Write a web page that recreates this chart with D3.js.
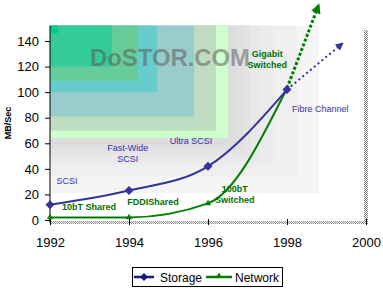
<!DOCTYPE html>
<html>
<head>
<meta charset="utf-8">
<script src="https://cdn.jsdelivr.net/npm/d3@7"></script>
<style>
  body { margin: 0; background: #fff; }
  svg { display: block; font-family: Arial, "Liberation Sans", sans-serif; }
</style>
</head>
<body>
<div id="chartContainer"></div>
<script>
// Chart data
const years = [1992, 1994, 1996, 1998];
const storage = [12, 23, 42, 102];
const network = [2, 2, 13, 103];
const storageTrend = [[1998, 102], [1999.4, 138]];
const networkTrend = [[1998, 103], [1998.8, 168]];
const xTicks = [1992, 1994, 1996, 1998, 2000];
const yTicks = [0, 20, 40, 60, 80, 100, 120, 140];

// Background shading: bottom-right corners (year, MB/sec) of nested boxes
const bgCorners = [[1992.2, 146], [1993.57, 120], [1994.23, 109], [1994.71, 100], [1995.65, 81],
    [1996.2, 70], [1996.5, 64], [1996.7, 59], [1996.9, 55], [1997.06, 51], [1997.3, 47],
    [1997.65, 43], [1998.25, 34], [1998.8, 21]];
const bgColors = ["#00cc8c", "#33cc99", "#66cc99", "#66cccc", "#99cccc",
    "#c0dcc0", "#ccffcc", "#dcdcdc", "#e0e0e0", "#e4e4e4", "#e8e8e8",
    "#ebebeb", "#efefef", "#f5f5f5"];

// Annotations (centre year, baseline value)
const storageNotes = [
    { lines: ["SCSI"], year: 1992.43, value: 28 },
    { lines: ["Fast-Wide", "SCSI"], year: 1993.97, value: 45.4 },
    { lines: ["Ultra SCSI"], year: 1995.57, value: 59.4 },
    { lines: ["Fibre Channel"], year: 1998.84, value: 84.5 }
];
const networkNotes = [
    { lines: ["10bT Shared"], year: 1992.99, value: 7.8 },
    { lines: ["FDDIShared"], year: 1994.61, value: 11.7 },
    { lines: ["100bT", "Switched"], year: 1996.68, value: 13.3 },
    { lines: ["Gigabit", "Switched"], year: 1997.5, value: 118.9 }
];

function createChart() {
    const width = 383;
    const height = 296;
    const blue = "#333399";
    const green = "#008000";

    const x = d3.scaleLinear().domain([1992, 2000]).range([50, 366]);
    const y = d3.scaleLinear().domain([0, 140]).range([220, 41]);

    const svg = d3.create("svg")
        .attr("width", width)
        .attr("height", height)
        .attr("viewBox", `0 0 ${width} ${height}`);

    svg.append("rect").attr("width", width).attr("height", height).attr("fill", "#fff");

    const defs = svg.append("defs");
    const pat = defs.append("pattern")
        .attr("id", "hatch").attr("width", 2).attr("height", 2)
        .attr("patternUnits", "userSpaceOnUse");
    pat.append("rect").attr("width", 2).attr("height", 2).attr("fill", "#fff");
    pat.append("rect").attr("width", 1).attr("height", 1).attr("fill", "#888");
    pat.append("rect").attr("x", 1).attr("y", 1).attr("width", 1).attr("height", 1).attr("fill", "#888");

    [["arrowBlue", blue, 8], ["arrowGreen", green, 10]].forEach(([id, c, s]) => {
        defs.append("marker")
            .attr("id", id).attr("viewBox", "0 0 10 10")
            .attr("refX", 8).attr("refY", 5)
            .attr("markerWidth", s).attr("markerHeight", s)
            .attr("markerUnits", "userSpaceOnUse")
            .attr("orient", "auto")
            .append("path").attr("d", "M0,0L10,5L0,10Z").attr("fill", c);
    });

    // Background boxes, largest first
    const top = y(152);
    svg.append("g")
        .selectAll("rect")
        .data(bgCorners.map((c, i) => ({ c, color: bgColors[i] })).reverse())
        .join("rect")
        .attr("x", x(1992))
        .attr("y", top)
        .attr("width", d => x(d.c[0]) - x(1992))
        .attr("height", d => y(d.c[1]) - top)
        .attr("fill", d => d.color);

    // Watermark
    svg.append("text")
        .attr("x", x(1992) + 40).attr("y", 66)
        .attr("textLength", 160).attr("lengthAdjust", "spacingAndGlyphs")
        .attr("font-size", 24).attr("font-weight", "bold")
        .attr("fill", "#555").attr("fill-opacity", 0.5)
        .text("DoSTOR.COM");

    // Frame: hatched right border and bottom axis
    svg.append("rect").attr("x", x(2000) - 2).attr("y", 30).attr("width", 4)
        .attr("height", 222 - 30).attr("fill", "url(#hatch)");
    svg.append("rect").attr("x", x(1992)).attr("y", 221).attr("width", x(2000) - x(1992) + 2)
        .attr("height", 3).attr("fill", "url(#hatch)");
    svg.append("line").attr("x1", x(1992)).attr("x2", x(1992))
        .attr("y1", top).attr("y2", 223).attr("stroke", "#000");

    // Axes
    const yAxis = svg.append("g")
        .attr("transform", `translate(${x(1992)},0)`)
        .call(d3.axisLeft(y).tickValues(yTicks).tickSize(5).tickPadding(6));
    yAxis.select(".domain").remove();
    yAxis.selectAll("text").attr("font-size", 13).attr("font-family", null).attr("fill", "#000");

    const xAxis = svg.append("g")
        .attr("transform", "translate(0,222)")
        .call(d3.axisBottom(x).tickValues(xTicks).tickFormat(d3.format("d")).tickSize(3));
    xAxis.select(".domain").remove();
    xAxis.selectAll("line").attr("y1", -3).attr("y2", 3);
    xAxis.selectAll("text").attr("y", 16).attr("font-size", 13).attr("font-family", null).attr("fill", "#000");

    svg.append("text")
        .attr("transform", `translate(11,123) rotate(-90)`)
        .attr("text-anchor", "middle")
        .attr("font-size", 9).attr("font-weight", "bold")
        .text("MB/Sec");

    // Lines
    const line = d3.line()
        .x((d, i) => x(years[i]))
        .y(d => y(d))
        .curve(d3.curveMonotoneX);

    svg.append("path").datum(network).attr("d", line)
        .attr("fill", "none").attr("stroke", green).attr("stroke-width", 2);
    svg.append("path").datum(storage).attr("d", line)
        .attr("fill", "none").attr("stroke", blue).attr("stroke-width", 2);

    // Dotted projections
    const trend = d3.line().x(d => x(d[0])).y(d => y(d[1]));
    svg.append("path").datum(networkTrend).attr("d", trend)
        .attr("stroke", green).attr("stroke-width", 3).attr("stroke-dasharray", "3,2")
        .attr("marker-end", "url(#arrowGreen)");
    svg.append("path").datum(storageTrend).attr("d", trend)
        .attr("stroke", blue).attr("stroke-width", 2).attr("stroke-dasharray", "2,3")
        .attr("marker-end", "url(#arrowBlue)");

    // Markers
    svg.append("g").selectAll("path")
        .data(network)
        .join("path")
        .attr("transform", (d, i) => `translate(${x(years[i])},${y(d)})`)
        .attr("d", d3.symbol(d3.symbolTriangle, 18))
        .attr("fill", green);
    svg.append("g").selectAll("path")
        .data(storage)
        .join("path")
        .attr("transform", (d, i) => `translate(${x(years[i])},${y(d)}) rotate(45)`)
        .attr("d", d3.symbol(d3.symbolSquare, 40))
        .attr("fill", blue);

    // Annotations
    const notes = (data, color, weight) => svg.append("g")
        .attr("font-size", 9)
        .attr("font-weight", weight)
        .attr("fill", color)
        .attr("text-anchor", "middle")
        .selectAll("text")
        .data(data)
        .join("text")
        .attr("x", d => x(d.year))
        .attr("y", d => y(d.value) - (d.lines.length - 1) * 11)
        .each(function (d) {
            d3.select(this).selectAll("tspan")
                .data(d.lines)
                .join("tspan")
                .attr("x", x(d.year))
                .attr("dy", (t, i) => i ? 11 : 0)
                .text(t => t);
        });
    notes(storageNotes, "#3333aa", "normal");
    notes(networkNotes, "#007000", "bold");

    // Legend
    const legend = svg.append("g");
    legend.append("rect").attr("x", 132.5).attr("y", 267.5).attr("width", 150).attr("height", 19)
        .attr("fill", "#fff").attr("stroke", "#000");
    legend.append("line").attr("x1", 134).attr("x2", 154).attr("y1", 277).attr("y2", 277)
        .attr("stroke", "#1a1a80").attr("stroke-width", 2.5);
    legend.append("path").attr("transform", "translate(144,277) rotate(45)")
        .attr("d", d3.symbol(d3.symbolSquare, 34)).attr("fill", "#1a1a80");
    legend.append("text").attr("x", 160).attr("y", 281.5).attr("font-size", 12).text("Storage");
    legend.append("line").attr("x1", 206).attr("x2", 232).attr("y1", 277).attr("y2", 277)
        .attr("stroke", green).attr("stroke-width", 2.5);
    legend.append("path").attr("transform", "translate(219,276)")
        .attr("d", d3.symbol(d3.symbolTriangle, 16)).attr("fill", green);
    legend.append("text").attr("x", 235).attr("y", 281.5).attr("font-size", 12).text("Network");

    return svg.node();
}

document.getElementById("chartContainer").appendChild(createChart());
</script>
</body>
</html>
